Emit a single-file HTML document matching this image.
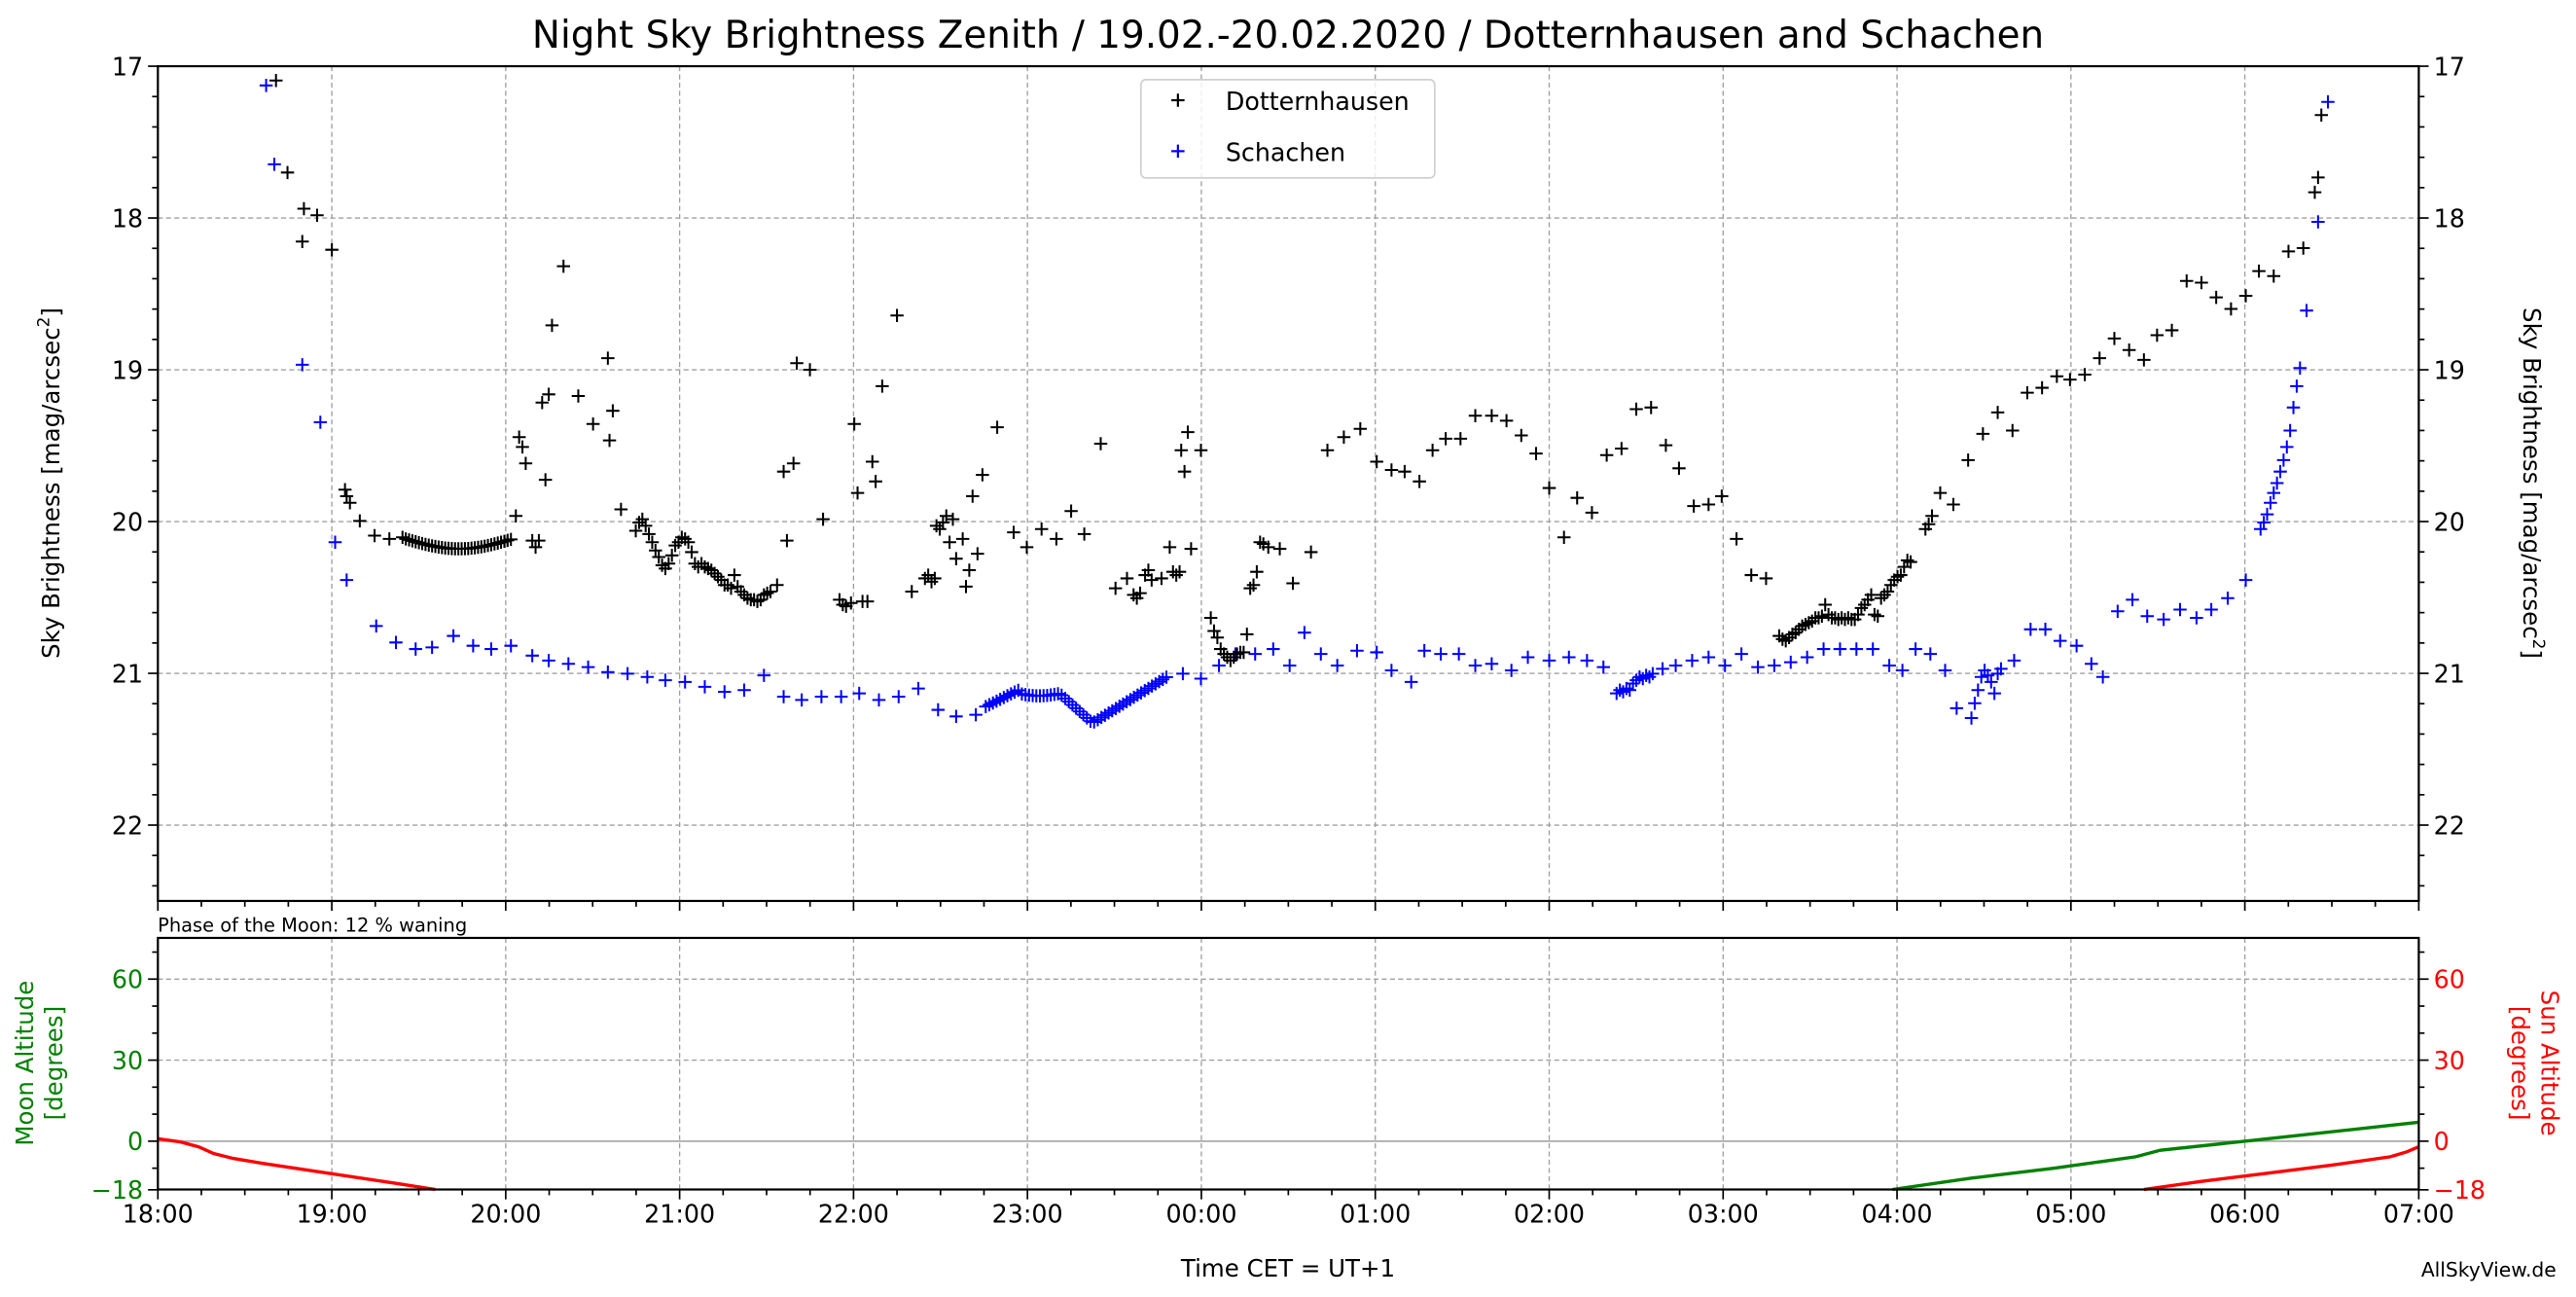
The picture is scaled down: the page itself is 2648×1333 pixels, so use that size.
<!DOCTYPE html>
<html><head><meta charset="utf-8"><style>
html,body{margin:0;padding:0;background:#fff;}
svg{display:block;}
text{font-family:"DejaVu Sans","Liberation Sans",sans-serif;}
</style></head><body>
<svg id="s" xmlns="http://www.w3.org/2000/svg" width="2648" height="1333" viewBox="0 0 1568 789.33">
<rect width="1568" height="790" fill="#fff"/>
<text x="784" y="29" font-size="23" text-anchor="middle">Night Sky Brightness Zenith / 19.02.-20.02.2020 / Dotternhausen and Schachen</text>
<g id="grid"></g>
<g id="data"></g>
<g id="axes"></g>
<rect x="694.5" y="48.5" width="178.8" height="59.8" rx="3" fill="#fff" fill-opacity="0.8" stroke="#d0d0d0" stroke-width="1"/>
<g stroke-width="1.3">
<line x1="713" y1="61" x2="721" y2="61" stroke="#000"/><line x1="717" y1="57" x2="717" y2="65" stroke="#000"/>
<line x1="713" y1="92" x2="721" y2="92" stroke="#00f"/><line x1="717" y1="88" x2="717" y2="96" stroke="#00f"/>
</g>
<text x="746" y="67" font-size="15">Dotternhausen</text>
<text x="746" y="98" font-size="15">Schachen</text>
<text transform="translate(36,294) rotate(-90)" font-size="14.5" text-anchor="middle">Sky Brightness [mag/arcsec<tspan dy="-6" font-size="10">2</tspan><tspan dy="6">]</tspan></text>
<text transform="translate(1536,294) rotate(90)" font-size="14.5" text-anchor="middle">Sky Brightness [mag/arcsec<tspan dy="-6" font-size="10">2</tspan><tspan dy="6">]</tspan></text>
<text x="96" y="567" font-size="11.5">Phase of the Moon: 12 % waning</text>
<text transform="translate(20,647) rotate(-90)" font-size="14.5" text-anchor="middle" fill="green">Moon Altitude</text>
<text transform="translate(38,647) rotate(-90)" font-size="14.5" text-anchor="middle" fill="green">[degrees]</text>
<text transform="translate(1547,647) rotate(90)" font-size="14.5" text-anchor="middle" fill="red">Sun Altitude</text>
<text transform="translate(1529,647) rotate(90)" font-size="14.5" text-anchor="middle" fill="red">[degrees]</text>
<text x="784" y="777" font-size="14.5" text-anchor="middle">Time CET = UT+1</text>
<text x="1556" y="777" font-size="12" text-anchor="end">AllSkyView.de</text>
</svg>
<script>
(function(){
var NS="http://www.w3.org/2000/svg";
function el(p,t,a,txt){var e=document.createElementNS(NS,t);for(var k in a)e.setAttribute(k,a[k]);if(txt!==undefined)e.textContent=txt;document.getElementById(p).appendChild(e);return e;}
var L=96.1,R=1472.3,T=40.3,B=548.3,H=(R-L)/13;
var T2=570.8,B2=723.9,Z=694.5,D=1.644;
function my(m){return T+(m-17)*92.37;}
function ay(d){return Z-d*D;}
for(var i=1;i<13;i++){var x=L+i*H;
 el("grid","line",{x1:x,y1:T,x2:x,y2:B,stroke:"#a0a0a0","stroke-width":0.8,"stroke-dasharray":"3,2"});
 el("grid","line",{x1:x,y1:T2,x2:x,y2:B2,stroke:"#a0a0a0","stroke-width":0.8,"stroke-dasharray":"3,2"});}
for(var m=18;m<=22;m++)el("grid","line",{x1:L,y1:my(m),x2:R,y2:my(m),stroke:"#a0a0a0","stroke-width":0.8,"stroke-dasharray":"3,2"});
[60,30].forEach(function(d){el("grid","line",{x1:L,y1:ay(d),x2:R,y2:ay(d),stroke:"#a0a0a0","stroke-width":0.8,"stroke-dasharray":"3,2"});});
el("grid","line",{x1:L,y1:Z,x2:R,y2:Z,stroke:"#aaa","stroke-width":1});
var K=[168,49,175,105,184,147,185,127,193,131,202,152,210,298,211,302,213,306,219,317,228,326,237,328,245,327];
for(var x=247;x<=312;x+=2){var t=(x-247)/65;K.push(x,328+Math.sin(t*Math.PI)*6);}
K=K.concat([314,314,316,266,318,272,320,282,324,329,326,333,328,329,330,245,332,292,334,240,336,198,343,162,352,241,361,258,370,218,371,268,373,250,378,310,387,323,389,318,391,316,393,320,395,325,397,330,399,335,401,339,403,344,405,346,407,343,409,338,411,332,413,330,415,327,417,328,419,330,421,336,423,343,425,345,427,343,429,345,431,346,433,347,435,349,437,351,439,353,441,356,443,356,445,358,447,350,449,357,451,360,453,362,455,364,457,365,459,365,461,366,463,365,465,362,467,361,469,360,473,356,477,287,479,329,483,282,485,221,493,225,501,316,511,365,513,368,515,369,518,367,520,258,522,300,525,366,528,366,531,281,533,293,537,235,546,192,555,360,563,352,565,350,567,354,569,352,570,320,572,322,574,318,576,314,578,330,580,316,582,340,586,328,588,357,590,347,592,302,595,337,598,289,607,260,617,324,625,333,634,322,643,328,652,311,660,325,670,270,679,358,686,352,690,362,692,364,694,361,697,350,699,347,701,353,707,352,712,333,714,348,716,350,718,348,719,274,721,287,723,263,725,334,731,274,737,376,739,384,741,388,743,395,745,398,747,400,749,402,751,400,753,398,755,397,757,397,759,386,761,358,763,356,765,348,767,330,769,331,772,333,779,334,787,355,798,336,808,274,818,266,828,261,838,281,847,286,855,287,864,293,872,274,880,267,889,267,898,253,908,253,917,256,926,265,935,276,943,297,952,327,960,303,969,312,978,277,987,273,996,249,1005,248,1014,271,1022,285,1031,308,1040,307,1048,302,1057,328,1066,350,1075,352,1083,387,1085,389,1087,390,1089,388,1091,386,1093,385,1095,383,1097,381,1099,380,1101,379,1103,378,1105,376,1107,376,1109,375,1111,368,1113,374,1115,376,1117,376,1119,377,1121,376,1123,377,1125,376,1127,377,1129,377,1131,374,1133,370,1135,368,1137,365,1139,362,1141,374,1143,375,1145,364,1147,362,1149,360,1151,356,1153,353,1155,351,1157,350,1159,345,1161,341,1163,342,1172,322,1174,319,1176,314,1181,300,1189,307,1198,280,1207,264,1216,251,1225,262,1234,239,1243,236,1252,229,1260,231,1269,228,1278,218,1287,206,1296,213,1305,219,1313,204,1322,201,1331,171,1340,172,1349,181,1358,188,1367,180,1375,165,1384,168,1393,153,1402,151,1409,117,1411,108,1413,70]);
var Bl=[162,52,167,100,184,222,195,257,204,330,211,353,229,381,241,391,253,395,263,394,276,387,288,393,299,395,311,393,324,399,334,402,346,404,358,406,370,409,382,410,394,412,405,414,417,415,429,418,441,421,453,420,465,411,477,424,488,426,500,424,512,424,523,422,535,426,547,424,559,419,571,432,582,436,594,435];
for(var x=600;x<=712;x+=2.2){var y;
 if(x<620)y=430-(x-600)*0.5; else if(x<645)y=421+Math.sin((x-620)/25*Math.PI)*1.5+1; else if(x<665)y=422+(x-645)*0.9; else y=440-(x-665)*0.62;
 Bl.push(x,y);}
Bl=Bl.concat([720,410,731,413,742,405,752,398,764,398,775,395,785,405,794,385,804,398,814,405,826,396,838,397,847,408,859,415,867,396,877,398,888,398,898,405,908,404,920,408,930,400,943,402,955,400,966,402,976,406,984,422,986,420,988,421,990,419,992,420,994,416,996,414,998,412,1000,413,1002,411,1004,412,1006,410,1012,407,1020,405,1030,402,1040,400,1050,405,1060,398,1070,406,1080,405,1090,403,1100,400,1110,395,1120,395,1130,395,1140,395,1150,405,1158,408,1166,395,1175,398,1184,408,1191,431,1200,437,1202,428,1204,420,1206,412,1208,408,1210,411,1212,415,1214,422,1216,410,1218,407,1226,402,1236,383,1245,383,1254,390,1264,393,1273,404,1280,412,1289,372,1298,365,1307,375,1317,377,1327,371,1337,376,1346,371,1356,364,1367,353,1376,322,1378,318,1380,313,1382,306,1384,300,1386,294,1388,287,1390,280,1392,272,1394,262,1396,248,1398,235,1400,224,1404,189,1411,135,1417,62]);
function plus(arr,c){var d="";for(var i=0;i<arr.length;i+=2){var x=arr[i],y=arr[i+1];d+="M"+(x-4)+" "+y+"h8M"+x+" "+(y-4)+"v8";}
 el("data","path",{d:d,stroke:c,"stroke-width":1.2,fill:"none"});}
plus(Bl,"#00f");plus(K,"#000");
el("data","polyline",{points:"96,693 110,695 121,698 130,702 142,705 160,708 200,714 240,720 265,723.9",fill:"none",stroke:"red","stroke-width":2});
el("data","polyline",{points:"1305,723.9 1340,719 1380,714 1420,709 1455,704 1465,701 1472,698",fill:"none",stroke:"red","stroke-width":2});
el("data","polyline",{points:"1152,723.9 1200,717 1250,711 1300,704 1315,700 1367,694.5 1472,683",fill:"none",stroke:"green","stroke-width":2});
el("axes","rect",{x:L,y:T,width:R-L,height:B-T,fill:"none",stroke:"#000","stroke-width":1.3});
el("axes","rect",{x:L,y:T2,width:R-L,height:B2-T2,fill:"none",stroke:"#000","stroke-width":1.3});
var labs=["18:00","19:00","20:00","21:00","22:00","23:00","00:00","01:00","02:00","03:00","04:00","05:00","06:00","07:00"];
for(var i=0;i<=52;i++){var x=L+i*H/4,mj=i%4==0,l=mj?6:3.5;
 el("axes","line",{x1:x,y1:B,x2:x,y2:B+l,stroke:"#000","stroke-width":1});
 el("axes","line",{x1:x,y1:B2,x2:x,y2:B2+l,stroke:"#000","stroke-width":1});
 if(mj)el("axes","text",{x:x,y:B2+20,"font-size":15,"text-anchor":"middle"},labs[i/4]);}
for(var m=17;m<=22.5001;m+=0.2){var y=my(m),mj=Math.abs(m-Math.round(m))<0.01,l=mj?6:3.5;
 el("axes","line",{x1:L-l,y1:y,x2:L,y2:y,stroke:"#000","stroke-width":1});
 el("axes","line",{x1:R,y1:y,x2:R+l,y2:y,stroke:"#000","stroke-width":1});
 if(mj){var v=Math.round(m);el("axes","text",{x:L-9,y:y+5.5,"font-size":15,"text-anchor":"end"},v);
 el("axes","text",{x:R+9,y:y+5.5,"font-size":15},v);}}
[-18,-10,0,10,20,30,40,50,60,70].forEach(function(d){var y=ay(d),mj=(d%30==0||d==-18),l=mj?6:3.5;
 el("axes","line",{x1:L-l,y1:y,x2:L,y2:y,stroke:"#000","stroke-width":1});
 el("axes","line",{x1:R,y1:y,x2:R+l,y2:y,stroke:"#000","stroke-width":1});
 if(mj){var s=d<0?"\u221218":String(d);
 el("axes","text",{x:L-9,y:y+5.5,"font-size":15,"text-anchor":"end",fill:"green"},s);
 el("axes","text",{x:R+9,y:y+5.5,"font-size":15,fill:"red"},s);}});
})();
</script>
</body></html>
